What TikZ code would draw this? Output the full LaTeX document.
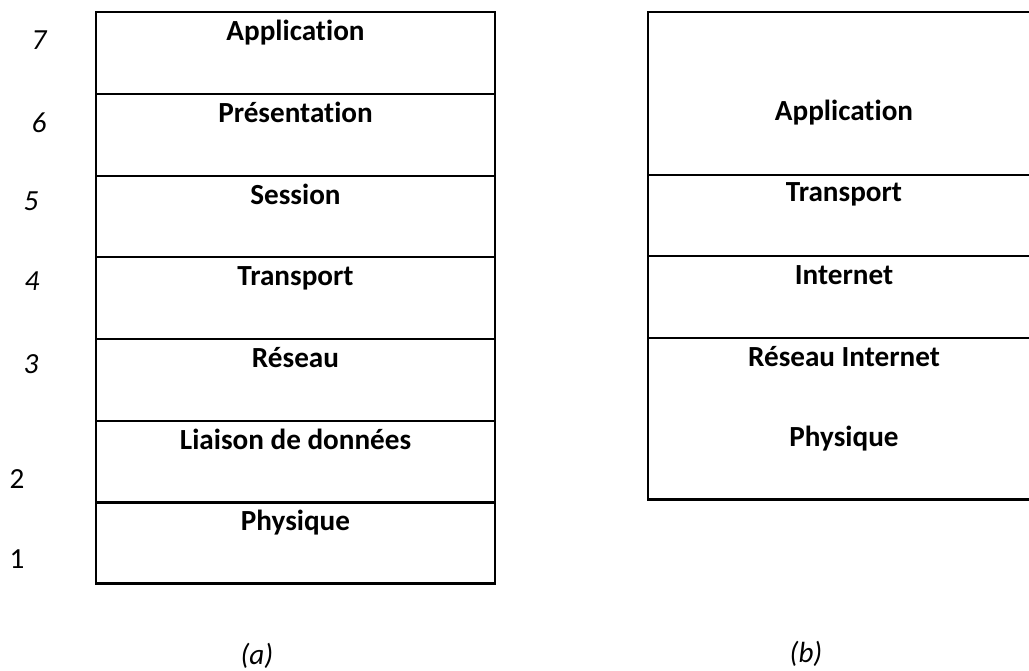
\documentclass[tikz,border=0pt]{standalone}
\usepackage{fontspec}
\setmainfont{Carlito}[Ligatures=NoCommon]
\usetikzlibrary{positioning}

\tikzset{
  layer/.style={draw, line width=1.6pt, minimum width=7.98cm, outer sep=0pt, inner sep=0pt},
  layertxt/.style={font=\bfseries\fontsize{16.6}{20}\selectfont, anchor=base},
  num/.style={font=\itshape\fontsize{16.6}{20}\selectfont},
  numup/.style={font=\fontsize{16.6}{20}\selectfont},
}

\begin{document}
\begin{tikzpicture}[x=0.02cm, y=-0.02cm]
	\useasboundingbox (0,0) rectangle (1029,671);
	\clip (0,0) rectangle (1029,671);

	% (a) modele OSI
	\node[layer, minimum height=1.64cm, anchor=north] (l7) at (295.5,12) {};
	\node[layer, minimum height=1.64cm, below=0pt of l7] (l6) {};
	\node[layer, minimum height=1.62cm, below=0pt of l6] (l5) {};
	\node[layer, minimum height=1.64cm, below=0pt of l5] (l4) {};
	\node[layer, minimum height=1.64cm, below=0pt of l4] (l3) {};
	\node[layer, minimum height=1.64cm, below=0pt of l3] (l2) {};
	\node[layer, minimum height=1.62cm, below=0pt of l2] (l1) {};

	\node[layertxt] (t7) at ([yshift=-0.58cm]l7.north) {Application};
	\node[layertxt] (t6) at ([yshift=-0.58cm]l6.north) {Présentation};
	\node[layertxt] (t5) at ([yshift=-0.58cm]l5.north) {Session};
	\node[layertxt] (t4) at ([yshift=-0.58cm]l4.north) {Transport};
	\node[layertxt] (t3) at ([yshift=-0.58cm]l3.north) {Réseau};
	\node[layertxt] (t2) at ([yshift=-0.58cm]l2.north) {Liaison de données};
	\node[layertxt] (t1) at ([yshift=-0.56cm]l1.north) {Physique};

	\node[num] (n7) at (39,40) {7};
	\node[num] (n6) at (39,123) {6};
	\node[num] (n5) at (31,201) {5};
	\node[num] (n4) at (32,281) {4};
	\node[num] (n3) at (31,364) {3};
	\node[numup] (n2) at (17,479) {2};
	\node[numup] (n1) at (17,559) {1};

	\node[num] (capa) at (257,656) {(a)};

	% (b) modele TCP/IP
	\node[layer, minimum width=8cm, minimum height=3.26cm, anchor=north] (m4) at (848,12) {};
	\node[layer, minimum width=8cm, minimum height=1.62cm, below=0pt of m4] (m3) {};
	\node[layer, minimum width=8cm, minimum height=1.64cm, below=0pt of m3] (m2) {};
	\node[layer, minimum width=8cm, minimum height=3.24cm, below=0pt of m2] (m1) {};

	\node[layertxt] (s4) at ([xshift=-0.08cm, yshift=-2.18cm]m4.north) {Application};
	\node[layertxt] (s3) at ([xshift=-0.08cm, yshift=-0.54cm]m3.north) {Transport};
	\node[layertxt] (s2) at ([xshift=-0.08cm, yshift=-0.58cm]m2.north) {Internet};
	\node[layertxt] (s1) at ([xshift=-0.08cm, yshift=-0.58cm]m1.north) {Réseau Internet};
	\node[layertxt] (s0) at ([xshift=-0.08cm, yshift=-2.18cm]m1.north) {Physique};

	\node[num] (capb) at (806,654) {(b)};
\end{tikzpicture}
\end{document}
